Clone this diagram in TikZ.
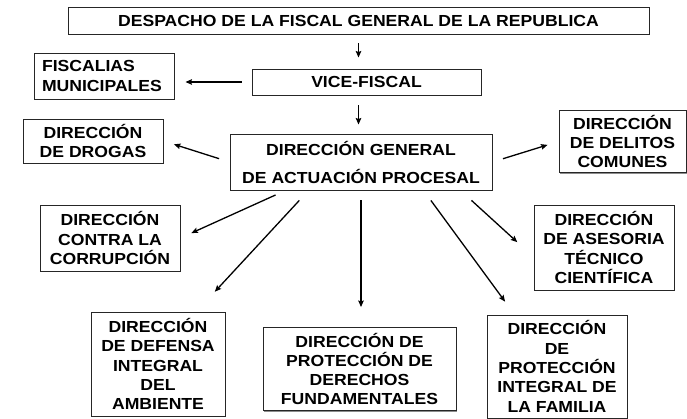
\documentclass[tikz,border=0pt]{standalone}
\usepackage{fontspec}
\setmainfont{Liberation Sans}[FakeStretch=1.1]
\usetikzlibrary{arrows.meta,shadows,calc}
\begin{document}
\begin{tikzpicture}[x=1pt,y=-1pt,
  box/.style={draw=black!85, line width=0.9pt, fill=white, inner sep=0pt, align=center,
    font=\fontsize{16}{19.3}\selectfont\bfseries,
    drop shadow={shadow xshift=1.2pt, shadow yshift=-1.2pt, fill=black!45, opacity=1}},
  arr/.style={draw=black, line width=1.3pt, -{Stealth[length=6.5pt,width=5.5pt,inset=1pt]}}
]
\useasboundingbox (0,0) rectangle (687,419);
% boxes
\node[box, minimum width=581pt, minimum height=27pt] (top) at (358.5,20.5)
  {DESPACHO DE LA FISCAL GENERAL DE LA REPUBLICA};
\node[box, minimum width=229pt, minimum height=26pt] (vice) at (366.5,82) {VICE-FISCAL};
\node[box, minimum width=140pt, minimum height=46pt, align=left, text width=124pt, inner xsep=8pt] (fisc) at (104,76)
  {FISCALIAS\\MUNICIPALES};
\node[box, minimum width=140pt, minimum height=44pt] (drogas) at (93,141) {DIRECCIÓN\\DE DROGAS};
\node[box, minimum width=262pt, minimum height=56pt] (dgap) at (361,162)
  {DIRECCIÓN GENERAL\\[8.7pt]DE ACTUACIÓN PROCESAL};
\node[box, minimum width=127pt, minimum height=62pt] (delitos) at (622.5,141.5)
  {DIRECCIÓN\\DE DELITOS\\COMUNES};
\node[box, minimum width=140pt, minimum height=66pt] (corr) at (110,238)
  {DIRECCIÓN\\CONTRA LA\\CORRUPCIÓN};
\node[box, minimum width=140pt, minimum height=85pt] (ases) at (604,247.5)
  {DIRECCIÓN\\DE ASESORIA\\TÉCNICO\\CIENTÍFICA};
\node[box, minimum width=134pt, minimum height=104pt] (amb) at (158,364)
  {DIRECCIÓN\\DE DEFENSA\\INTEGRAL\\DEL\\AMBIENTE};
\node[box, minimum width=193pt, minimum height=83pt] (fund) at (359.5,369)
  {DIRECCIÓN DE\\PROTECCIÓN DE\\DERECHOS\\FUNDAMENTALES};
\node[box, minimum width=140pt, minimum height=103pt] (fam) at (557,366.5)
  {DIRECCIÓN\\DE\\PROTECCIÓN\\INTEGRAL DE\\LA FAMILIA};
% connectors
\draw[arr, shorten <=9pt, shorten >=11pt] (top.south) -- (top.south |- vice.north);
\draw[arr, shorten <=10pt, shorten >=9pt] (top.south |- vice.south) -- (top.south |- dgap.north);
\draw[arr, shorten <=10pt, shorten >=11pt] (vice.west) -- (vice.west -| fisc.east);
\draw[arr, shorten <=11pt, shorten >=11pt] (dgap.west) -- (drogas.east);
\draw[arr, shorten <=11pt, shorten >=11.5pt] (dgap.east) -- (delitos.west);
\draw[arr, shorten <=11pt, shorten >=12pt] ([xshift=56pt]dgap.south west) -- (corr.east);
\draw[arr, shorten <=13.6pt, shorten >=27pt] ([xshift=79pt]dgap.south west) -- ([xshift=-29pt]amb.north east);
\draw[arr, shorten <=10pt, shorten >=20pt] (dgap.south) -- (dgap.south |- fund.north);
\draw[arr, shorten <=12.4pt, shorten >=16pt] ([xshift=194pt]dgap.south west) -- ([xshift=28pt]fam.north west);
\draw[arr, shorten <=14.8pt, shorten >=22pt] ([xshift=231pt]dgap.south west) -- ([yshift=-9.5pt]ases.west);
\end{tikzpicture}
\end{document}
